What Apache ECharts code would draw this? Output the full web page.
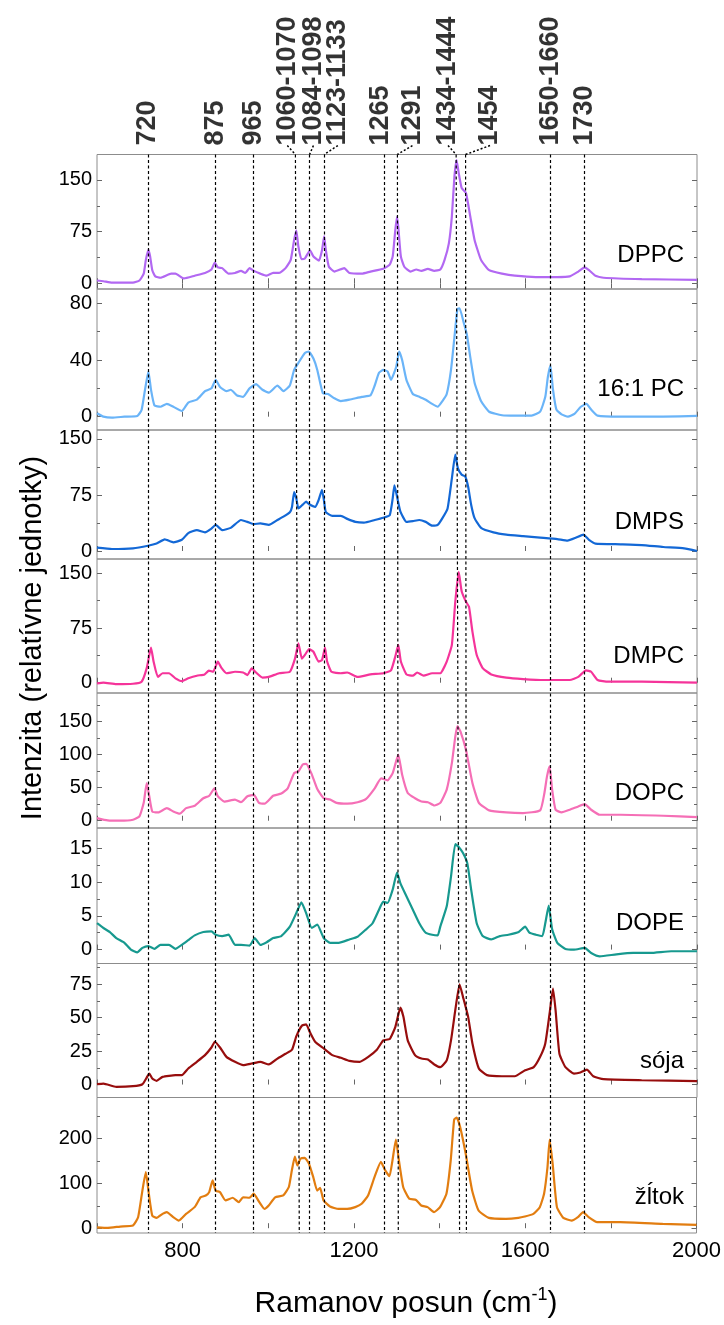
<!DOCTYPE html>
<html>
<head>
<meta charset="utf-8">
<title>Ramanove spektrá lipidov</title>
<script src="https://cdn.jsdelivr.net/npm/echarts@6/dist/echarts.min.js"></script>
<style>
  html, body { margin: 0; padding: 0; background: #fff; }
  #chart { width: 724px; height: 1325px; }
</style>
</head>
<body>
<div id="chart"></div>
<script>
// panel labels, top to bottom
const names = ["DPPC", "16:1 PC", "DMPS", "DMPC", "DOPC", "DOPE", "sója", "žĺtok"];

// spectra: [Raman shift (cm-1), intensity]
const dppc = [[600,4],[615,3],[635,1],[684,1],[699,4],[709,14],[714,34],[720,49],[724,39],[729,19],[736,10],[748,8],[773,14],[783,14],[803,7],[828,11],[852,15],[867,20],[875,30],[882,23],[892,22],[907,14],[922,15],[936,18],[946,15],[956,22],[966,18],[981,14],[996,11],[1011,15],[1025,15],[1040,22],[1052,34],[1060,63],[1065,77],[1070,53],[1077,35],[1085,36],[1097,48],[1105,39],[1118,33],[1125,48],[1130,68],[1134,48],[1141,24],[1154,17],[1177,22],[1189,15],[1218,14],[1238,17],[1268,21],[1283,27],[1290,39],[1296,77],[1300,97],[1303,82],[1309,39],[1317,24],[1332,17],[1345,20],[1357,18],[1372,21],[1387,18],[1401,20],[1411,34],[1421,58],[1428,97],[1434,155],[1439,179],[1444,160],[1451,138],[1461,131],[1471,97],[1481,63],[1496,34],[1515,19],[1545,14],[1575,11],[1624,9],[1673,9],[1703,10],[1723,17],[1738,23],[1748,19],[1763,11],[1782,8],[1871,6],[2000,5]];

const pc161 = [[600,2.4],[615,0],[635,-0.7],[664,0],[694,0.5],[704,4.7],[712,19],[720,32],[726,19],[734,8],[748,7],[763,9],[778,7],[798,4],[813,10],[833,12],[852,18],[867,20],[877,26],[887,21],[902,18],[912,19],[927,15],[941,14],[956,20],[971,23],[986,19],[1001,17],[1021,22],[1035,18],[1050,22],[1060,33],[1070,38],[1085,45],[1094,46],[1105,41],[1114,33],[1127,16.5],[1139,16],[1154,13],[1169,11],[1189,12],[1218,14],[1238,15],[1248,22],[1258,31],[1268,33],[1278,32],[1286,26],[1298,35],[1305,46],[1312,40],[1322,26],[1337,16],[1352,14],[1367,12],[1382,9],[1395,7],[1406,11],[1416,16],[1426,33],[1434,56],[1441,76],[1446,76.5],[1456,66],[1463,58],[1471,42],[1481,24],[1496,11],[1515,3.5],[1545,1],[1575,0.7],[1614,0.7],[1634,3.5],[1646,14],[1652,28],[1658,36],[1664,19],[1672,5],[1684,1.6],[1699,0],[1714,2],[1729,7],[1742,9],[1753,5],[1768,0.7],[1822,0],[1921,0],[2000,0.5]];

const dmps = [[600,4.5],[635,2.7],[684,3.6],[719,7],[739,10],[758,15.6],[778,11.6],[798,15],[813,24],[833,28],[852,25],[867,30],[877,35],[892,28],[912,31],[936,41.5],[951,39],[966,36],[981,37],[1001,35],[1021,41.5],[1035,46],[1050,52],[1055,59],[1060,79],[1065,70.5],[1070,57],[1080,62],[1088,66],[1095,62.5],[1109,59],[1117,68],[1125,82],[1130,66],[1134,52],[1149,47],[1169,47],[1184,43],[1203,39],[1223,38],[1248,41.5],[1268,44.6],[1283,48],[1290,70.5],[1294,88],[1300,73],[1308,52.7],[1322,39],[1337,40],[1352,41.5],[1367,39],[1382,34],[1395,35],[1406,44],[1418,57],[1428,97],[1436,129],[1442,111],[1451,102],[1459,100],[1466,86],[1473,62],[1481,44],[1496,31],[1525,25],[1555,22],[1594,20],[1634,18],[1674,16],[1698,14],[1718,18],[1735,22],[1748,15],[1763,10],[1822,9],[1871,8],[1921,5.4],[1970,3.6],[2000,0]];

const dmpc = [[600,-1],[615,0],[645,-2],[684,-1.4],[704,1.4],[716,20],[726,48],[732,29],[742,8],[753,13],[768,13],[783,6],[798,2.3],[813,6],[833,9.6],[851,11.4],[861,16.5],[871,15],[882,29],[890,20.6],[902,13],[922,15],[941,14],[951,10.5],[961,19.7],[971,14],[986,7],[1001,8],[1025,13],[1050,15],[1062,33],[1070,54],[1078,33],[1085,38],[1095,46],[1105,42.5],[1117,29],[1125,31],[1132,48],[1137,29],[1147,15],[1169,13],[1184,14],[1208,8],[1238,11.4],[1268,13],[1286,17],[1296,36],[1303,52],[1309,29],[1322,11.4],[1337,9.6],[1347,14],[1362,9.6],[1382,13],[1401,13],[1416,29],[1428,52],[1436,111],[1444,152],[1451,125],[1461,111],[1468,104],[1476,70],[1486,38],[1500,20],[1520,11.4],[1555,7],[1594,5],[1644,3.7],[1703,3.7],[1723,8],[1741,17],[1753,15],[1768,3.7],[1793,1.4],[1871,1.4],[2000,0]];

const dopc = [[600,4],[625,0.5],[654,0],[684,1.5],[699,6.5],[709,27],[716,57],[722,37],[729,14],[743,12.6],[763,19],[778,14],[793,10.6],[808,19],[828,22.6],[848,34],[862,37.8],[874,49],[882,37],[897,29],[922,32],[936,28],[951,37],[966,39],[978,27],[991,25.7],[1011,37.8],[1030,41],[1045,49],[1060,72],[1070,74.5],[1080,85],[1088,86],[1100,72],[1114,48],[1129,34],[1144,32],[1159,27],[1184,25.7],[1208,28],[1228,33],[1248,49],[1263,64],[1278,61],[1290,72],[1303,100],[1312,69.5],[1325,42],[1342,34],[1357,29],[1372,28],[1387,23],[1401,27],[1416,47],[1428,87],[1436,127],[1441,143],[1448,135],[1461,107],[1476,57],[1491,27],[1515,15.6],[1555,12.6],[1594,11.6],[1634,15.6],[1644,42],[1650,67],[1656,82],[1662,47],[1670,16.6],[1684,12.6],[1703,16.6],[1723,21.6],[1738,25],[1753,16.6],[1773,9],[1822,9],[1921,7.5],[2000,5.5]];

const dope = [[600,3.9],[615,3.2],[630,2.6],[645,1.7],[664,1],[679,0],[694,-0.4],[706,0.25],[720,0.5],[734,0.1],[748,0.7],[768,0.7],[783,0.1],[798,0.7],[813,1.4],[828,2.1],[848,2.6],[867,2.7],[877,2.2],[892,2],[907,2.2],[922,0.7],[936,0.7],[956,0.6],[968,1.7],[981,0.7],[996,1.1],[1011,1.7],[1030,2],[1050,3.4],[1065,5.4],[1077,7],[1088,5.4],[1101,3.2],[1114,3.7],[1129,1.7],[1144,1],[1164,1],[1189,1.5],[1208,1.9],[1228,3],[1243,3.9],[1258,5.9],[1268,7.1],[1278,6.9],[1290,8.9],[1300,11.4],[1308,9.8],[1322,7.9],[1337,5.9],[1352,3.9],[1367,2.5],[1382,2.2],[1395,2.1],[1401,3.4],[1416,6.4],[1426,10.8],[1436,15.6],[1444,15.2],[1454,14.3],[1464,12.8],[1473,8.9],[1486,3.9],[1500,2],[1520,1.5],[1540,2],[1560,2.2],[1584,2.6],[1599,3.4],[1609,2.5],[1624,2.2],[1639,2],[1646,3.9],[1654,6.5],[1662,3],[1674,1],[1693,0.1],[1713,0],[1738,0.25],[1753,-0.5],[1773,-1],[1812,-0.7],[1851,-0.5],[1891,-0.5],[1940,-0.25],[2000,-0.25]];

const soja = [[600,0.25],[615,0.7],[645,-1.7],[684,-1.2],[706,0.25],[716,5.2],[722,8.2],[729,4.5],[739,2.7],[753,5.7],[783,7],[798,7],[813,12],[833,17],[852,22],[867,27.7],[875,32],[887,27.7],[902,20.7],[922,17],[941,14.5],[961,15.7],[981,17],[1001,15],[1021,19.4],[1040,23],[1055,26],[1065,36],[1078,44],[1088,45],[1097,39],[1109,32],[1129,27],[1149,22],[1169,20],[1189,17.7],[1213,17],[1233,20.7],[1253,26],[1268,33],[1283,34],[1296,43],[1308,57.6],[1315,50.6],[1325,33],[1342,22],[1357,19.4],[1372,18.7],[1387,15],[1401,13],[1416,18],[1426,33],[1436,55.6],[1446,75],[1454,65.5],[1466,50.6],[1476,30.7],[1491,12],[1510,7],[1545,6.2],[1575,6.2],[1599,10.7],[1619,13],[1634,20.7],[1646,30.7],[1656,53],[1664,71.8],[1670,55.6],[1679,23],[1693,13],[1713,8.2],[1728,9],[1743,11.2],[1758,6.2],[1782,4],[1871,3.2],[2000,2.5]];

const zltok = [[600,2],[625,0.7],[654,3.7],[684,6],[696,24.6],[706,84],[714,125],[721,77],[729,28],[739,23],[753,32],[763,36],[778,24.6],[791,17],[808,32],[828,47],[842,69],[854,73],[862,80.6],[870,107],[877,84],[887,80.6],[900,62],[917,68],[931,58],[941,69],[956,68],[966,77],[979,58],[991,43],[1001,50.7],[1016,69],[1035,73],[1048,92],[1055,129],[1062,160],[1068,140],[1075,155],[1085,157],[1095,144],[1105,114],[1114,84],[1121,90],[1129,62],[1144,48.5],[1164,43],[1184,43],[1203,47],[1218,54.5],[1233,73],[1248,114],[1263,148],[1273,129],[1283,116],[1290,151.5],[1298,198],[1305,151.5],[1315,92],[1329,66],[1345,63],[1357,50.7],[1372,47],[1387,36],[1401,47],[1416,77],[1426,151.5],[1434,242.5],[1440,247],[1448,226],[1461,166],[1476,84],[1491,39.5],[1515,23],[1555,21],[1584,23],[1599,26],[1619,32],[1634,47],[1644,77],[1652,136.6],[1657,198],[1664,144],[1674,47],[1689,23],[1708,17],[1723,24.6],[1735,36],[1748,24.6],[1768,13.4],[1822,13.4],[1921,9.7],[2000,7.5]];

const spectra = [dppc, pc161, dmps, dmpc, dopc, dope, soja, zltok];

// y axis ranges and ticks per panel
const yMin = [-8.3, -9.4, -10.7, -14.1, -11, -2.06, -9.7, -10.7];
const yMax = [187, 90.1, 162, 169.6, 193, 18, 90.5, 291.7];
const yMajor = [[0, 75, 150], [0, 40, 80], [0, 75, 150], [0, 75, 150], [0, 50, 100, 150], [0, 5, 10, 15], [0, 25, 50, 75], [0, 100, 200]];
const yMinor = [[37.5, 112.5], [20, 60], [37.5, 112.5], [37.5, 112.5], [25, 75, 125, 175], [2.5, 7.5, 12.5], [12.5, 37.5, 62.5, 87.5], [50, 150, 250]];

// band assignments on top, and the dotted guide lines (x at top / bottom of the stack)
const bandLabels = ["720", "875", "965", "1060-1070", "1084-1098", "1123-1133", "1265", "1291", "1434-1444", "1454", "1650-1660", "1730"];
const bandLabelX = [719, 876, 966, 1044, 1105, 1162, 1262, 1336, 1419, 1517, 1659, 1737];
const bandTopX = [719, 875, 965, 1063, 1096, 1130, 1271, 1301, 1438, 1460, 1657, 1737];
const bandBottomX = [719, 875, 965, 1072, 1096, 1130, 1271, 1303, 1446, 1462, 1657, 1737];
const leaderIdx = [3, 4, 5, 7, 8, 9];

const colors = ["#b268f2", "#6ab4f8", "#1368d6", "#f5349a", "#f56fb6", "#17998f", "#970d0d", "#e27d10"];

// layout
const FONT = "'Liberation Sans', Arial, sans-serif";
const bounds = [154.5, 289, 430, 559, 693, 828, 963.5, 1097.5, 1233];
const nameCenterY = [256, 390, 523, 657, 794, 924, 1062, 1198];
const L = 97, R = 27;
const tickColor = "#666";

const grids = [], xAxes = [], yAxes = [], series = [], titles = [];

for (let i = 0; i < 8; i++) {
  grids.push({
    left: L, right: R, top: bounds[i], height: bounds[i + 1] - bounds[i],
    show: true, borderColor: "#8c8c8c", borderWidth: 1
  });
  xAxes.push({
    type: "value", gridIndex: i, min: 600, max: 2000, interval: 200,
    axisLine: { show: false }, splitLine: { show: false },
    axisTick: { inside: true, length: 5, lineStyle: { color: tickColor } },
    axisLabel: {
      show: i === 7, showMinLabel: true, showMaxLabel: true,
      formatter: v => (v % 400 === 0 ? String(v) : ""),
      fontSize: 22, color: "#000", fontFamily: FONT, margin: 7
    }
  });
  const base = {
    type: "value", gridIndex: i, min: yMin[i], max: yMax[i],
    axisLine: { show: false }, splitLine: { show: false }
  };
  // left major (with labels), left minor, right major, right minor
  yAxes.push(Object.assign({}, base, {
    position: "left",
    axisTick: { inside: true, length: 5, customValues: yMajor[i], lineStyle: { color: tickColor } },
    axisLabel: { customValues: yMajor[i], fontSize: 20, color: "#000", fontFamily: FONT, margin: 5 }
  }));
  yAxes.push(Object.assign({}, base, {
    position: "left",
    axisTick: { inside: true, length: 3, customValues: yMinor[i], lineStyle: { color: tickColor } },
    axisLabel: { show: false }
  }));
  yAxes.push(Object.assign({}, base, {
    position: "right",
    axisTick: { inside: true, length: 5, customValues: yMajor[i], lineStyle: { color: tickColor } },
    axisLabel: { show: false }
  }));
  yAxes.push(Object.assign({}, base, {
    position: "right",
    axisTick: { inside: true, length: 3, customValues: yMinor[i], lineStyle: { color: tickColor } },
    axisLabel: { show: false }
  }));
  series.push({
    name: names[i], type: "line", xAxisIndex: i, yAxisIndex: i * 4,
    data: spectra[i], showSymbol: false, smooth: 0.15,
    lineStyle: { color: colors[i], width: 2.2 }, z: 2
  });
  titles.push({
    text: names[i], right: 40, top: nameCenterY[i] - 13, padding: 0,
    textStyle: { fontSize: 24, fontWeight: "normal", color: "#000", fontFamily: FONT }
  });
}

// mirrored ticks on top of the first panel (xAxis 8)
xAxes.push({
  type: "value", gridIndex: 0, position: "top", min: 600, max: 2000, interval: 200,
  axisLine: { show: false }, splitLine: { show: false },
  axisTick: { inside: true, length: 5, lineStyle: { color: tickColor } },
  axisLabel: { show: false }
});

// overlay grid 8: band labels above the stack; grid 9: guide lines over all panels
grids.push({ left: L, right: R, top: 0, height: bounds[0] });
grids.push({ left: L, right: R, top: bounds[0], height: bounds[8] - bounds[0] });
xAxes.push({ type: "value", gridIndex: 8, min: 600, max: 2000, show: false });
xAxes.push({ type: "value", gridIndex: 9, min: 600, max: 2000, show: false });
yAxes.push({ type: "value", gridIndex: 8, min: 0, max: 1, show: false });
yAxes.push({ type: "value", gridIndex: 9, min: 0, max: 1, show: false });

const labelY = 0.058;
series.push({
  type: "scatter", xAxisIndex: 9, yAxisIndex: 32, symbolSize: 0.1, silent: true,
  itemStyle: { color: "rgba(0,0,0,0)" },
  data: bandLabelX.map((x, k) => ({ value: [x, labelY], name: bandLabels[k] })),
  label: {
    show: true, formatter: p => p.name, rotate: 90, position: [0, 0],
    align: "left", verticalAlign: "middle",
    fontSize: 27, fontWeight: "bold", color: "#000", fontFamily: FONT
  }
});
series.push({
  type: "lines", coordinateSystem: "cartesian2d", xAxisIndex: 9, yAxisIndex: 32, silent: true,
  data: leaderIdx.map(k => ({ coords: [[bandLabelX[k], labelY], [bandTopX[k], 0]] })),
  lineStyle: { color: "#000", width: 1.5, type: [2, 2], opacity: 1, curveness: 0 }
});
series.push({
  type: "lines", coordinateSystem: "cartesian2d", xAxisIndex: 10, yAxisIndex: 33, silent: true, z: 3,
  data: bandTopX.map((x, k) => ({ coords: [[x, 1], [bandBottomX[k], 0]] })),
  lineStyle: { color: "#000", width: 1.2, type: [3, 2.5], opacity: 1, curveness: 0 }
});

const chart = echarts.init(document.getElementById("chart"));
chart.setOption({
  backgroundColor: "#fff",
  animation: false,
  title: titles,
  grid: grids,
  xAxis: xAxes,
  yAxis: yAxes,
  series: series,
  graphic: [
    {
      type: "text", x: 33, y: 638, rotation: Math.PI / 2, silent: true,
      style: {
        text: "Intenzita (relatívne jednotky)", fill: "#000",
        fontSize: 29, fontFamily: FONT, align: "center", verticalAlign: "middle"
      }
    },
    {
      type: "text", x: 406, y: 1304, silent: true,
      style: {
        text: "{a|Ramanov posun (cm}{s|-1}{a|)}", fill: "#000",
        align: "center", verticalAlign: "middle",
        rich: {
          a: { fontSize: 30, lineHeight: 36, fontFamily: FONT, fill: "#000" },
          s: { fontSize: 18, lineHeight: 18, verticalAlign: "top", fontFamily: FONT, fill: "#000" }
        }
      }
    }
  ]
});
</script>
</body>
</html>
